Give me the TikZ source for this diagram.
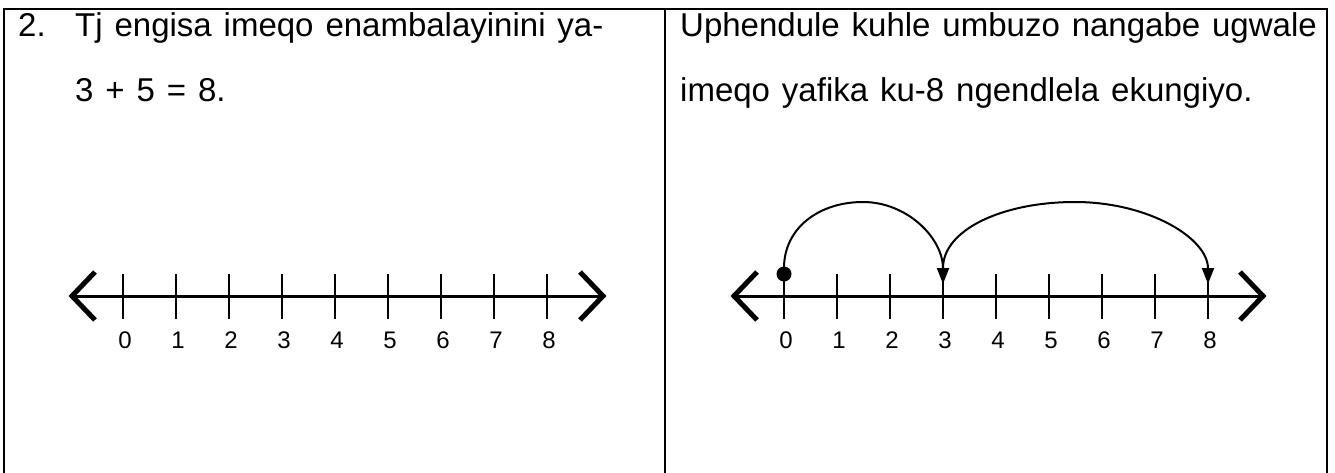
\documentclass[tikz,border=0pt]{standalone}
\usepackage{fontspec}
\setmainfont{Liberation Sans}[WordSpace=1.3]
\usetikzlibrary{arrows.meta}
\begin{document}
\begin{tikzpicture}[x=1pt,y=-1pt,
  boxline/.style={line width=2pt},
  axisline/.style={line width=3pt},
  tickmark/.style={line width=2.5pt},
  endarrow/.style={line width=5pt, line join=miter},
  hop/.style={line width=2pt, -{Triangle[length=16pt,width=12pt]}},
  txt/.style={anchor=base west, inner sep=0pt, font=\fontsize{33}{38}\selectfont},
  numlbl/.style={inner sep=0pt, font=\fontsize{24}{28}\selectfont}]
\useasboundingbox (0,0) rectangle (1335,473);
% frame
\draw[boxline] (4,473) -- (4,9) -- (1327,9) -- (1327,473);
\draw[boxline] (665,9) -- (665,473);
% texts
\node[txt] (q2) at (18,37) {2.};
\node[txt] (q2a) at (75,37) {Tj engisa imeqo enambalayinini ya-};
\node[txt] (q2b) at (75,102) {3 + 5 = 8.};
\node[txt] (r1) at (680,37) {Uphendule kuhle umbuzo nangabe ugwale};
\node[txt] (r2) at (680,102) {imeqo yafika ku-8 ngendlela ekungiyo.};
% left number line
\coordinate (LtipL) at (72,296);
\coordinate (LtipR) at (603,296);
\draw[axisline] (LtipL) -- (LtipR);
\draw[endarrow] (LtipL) ++(23,-24) -- (LtipL) -- ++(23,24);
\draw[endarrow] (LtipR) ++(-23,-24) -- (LtipR) -- ++(-23,24);
\foreach \i in {0,...,8} {
  \coordinate (Lt\i) at (123+53*\i,274);
  \coordinate (Lb\i) at (123+53*\i,319);
  \draw[tickmark] (Lt\i) -- (Lb\i);
  \node[numlbl] (Ln\i) at (125+53*\i,340) {\i};
}
% right number line
\coordinate (RtipL) at (734,296);
\coordinate (RtipR) at (1263,296);
\draw[axisline] (RtipL) -- (RtipR);
\draw[endarrow] (RtipL) ++(23,-24) -- (RtipL) -- ++(23,24);
\draw[endarrow] (RtipR) ++(-23,-24) -- (RtipR) -- ++(-23,24);
\foreach \i in {0,...,8} {
  \coordinate (Rt\i) at (784+53*\i,274);
  \coordinate (Rb\i) at (784+53*\i,319);
  \draw[tickmark] (Rt\i) -- (Rb\i);
  \node[numlbl] (Rn\i) at (786+53*\i,340) {\i};
}
% jumps
\fill (Rt0) circle (7.5);
\coordinate (d0) at (784,268);
\coordinate (pk1) at (863,202);
\coordinate (h3) at (943,284);
\coordinate (s3) at (943,268);
\coordinate (pk2) at (1075,202);
\coordinate (h8) at (1208,284);
\draw[hop] (d0) .. controls +(0,-40) and +(-44,0) .. (pk1) .. controls +(44,0) and +(0,-46) .. (h3);
\draw[hop] (s3) .. controls +(0,-38) and +(-73,0) .. (pk2) .. controls +(73,0) and +(0,-46) .. (h8);
\end{tikzpicture}
\end{document}
